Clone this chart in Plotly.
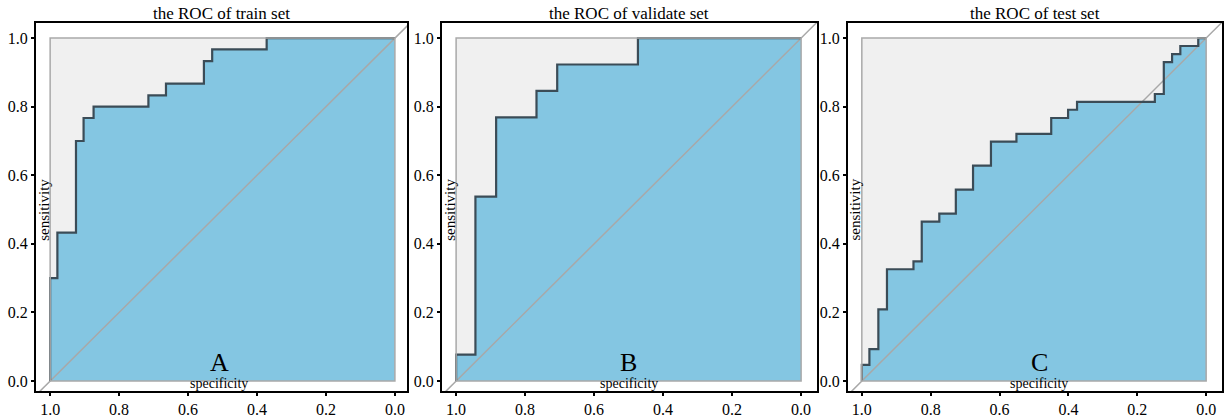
import plotly.graph_objects as go

titles = ["the ROC of train set", "the ROC of validate set", "the ROC of test set"]
letters = ["A", "B", "C"]

train_spec = [1.0, 0.979, 0.925, 0.903, 0.874, 0.715, 0.664, 0.554, 0.530, 0.372, 0.0]
train_sens = [0.0, 0.300, 0.433, 0.700, 0.767, 0.800, 0.833, 0.867, 0.933, 0.967, 1.0]

valid_spec = [1.0, 0.944, 0.884, 0.767, 0.707, 0.473, 0.0]
valid_sens = [0.0, 0.077, 0.538, 0.769, 0.846, 0.923, 1.0]

test_spec = [1.0, 0.978, 0.952, 0.927, 0.850, 0.826, 0.775, 0.727, 0.677, 0.625,
             0.551, 0.450, 0.401, 0.375, 0.149, 0.123, 0.099, 0.075, 0.023, 0.0]
test_sens = [0.0, 0.047, 0.093, 0.209, 0.326, 0.349, 0.465, 0.488, 0.558, 0.628,
             0.698, 0.721, 0.767, 0.791, 0.814, 0.837, 0.930, 0.953, 0.977, 1.0]

curves = [(train_spec, train_sens), (valid_spec, valid_sens), (test_spec, test_sens)]

tick_vals = [0.0, 0.2, 0.4, 0.6, 0.8, 1.0]
tick_text = ["0.0", "0.2", "0.4", "0.6", "0.8", "1.0"]

x_ranges = [[1.041, -0.035], [1.041, -0.046], [1.040, -0.046]]
y_range = [-0.029, 1.044]
domains = [[0.0, 0.3128], [0.3423, 0.6585], [0.6847, 1.0]]
label_x = [0.51, 0.50, 0.485]

FILL = "#84c6e2"
LINE = "#3b4c57"
SQUARE = "#f0f0f0"
SQUARE_BORDER = "#a9a9a9"
DIAG = "#a8a8a8"
FONT = "Liberation Serif"

fig = go.Figure()
for i, (spec, sens) in enumerate(curves):
    sfx = "" if i == 0 else str(i + 1)
    xa, ya = "x" + sfx, "y" + sfx
    fig.add_shape(type="rect", x0=1, x1=0, y0=0, y1=1, xref=xa, yref=ya,
                  fillcolor=SQUARE, line=dict(width=0), layer="below")
    fig.add_trace(go.Scatter(x=spec, y=sens, mode="lines", line_shape="vh",
                             fill="tozeroy", fillcolor=FILL,
                             line=dict(width=0, color=FILL),
                             xaxis=xa, yaxis=ya, showlegend=False, hoverinfo="skip"))
    fig.add_shape(type="rect", x0=1, x1=0, y0=0, y1=1, xref=xa, yref=ya,
                  fillcolor="rgba(0,0,0,0)", line=dict(width=1.5, color=SQUARE_BORDER),
                  layer="above")
    fig.add_trace(go.Scatter(x=[1.2, -0.2], y=[-0.2, 1.2], mode="lines",
                             line=dict(width=1.5, color=DIAG),
                             xaxis=xa, yaxis=ya, showlegend=False, hoverinfo="skip"))
    fig.add_trace(go.Scatter(x=spec, y=sens, mode="lines", line_shape="vh",
                             line=dict(width=2.2, color=LINE),
                             xaxis=xa, yaxis=ya, showlegend=False, hoverinfo="skip"))

    axis_common = dict(showgrid=False, zeroline=False, showline=True, mirror=True,
                       automargin=False,
                       linecolor="black", linewidth=2, ticks="outside", ticklen=3,
                       tickwidth=1.5, tickcolor="black",
                       tickfont=dict(family=FONT, size=16, color="black"),
                       tickvals=tick_vals, ticktext=tick_text)
    fig.update_layout(**{
        "xaxis" + sfx: dict(range=x_ranges[i], domain=domains[i], anchor=ya, **axis_common),
        "yaxis" + sfx: dict(range=y_range, domain=[0, 1], anchor=xa, **axis_common),
    })

    xc = (domains[i][0] + domains[i][1]) / 2
    fig.add_annotation(text=titles[i], xref="paper", yref="paper", x=xc, y=1.0,
                       xanchor="center", yanchor="bottom", yshift=-2, showarrow=False,
                       font=dict(family=FONT, size=17, color="black"))
    fig.add_annotation(text="sensitivity", xref=xa, yref=ya, x=1.02, y=0.5,
                       textangle=-90, showarrow=False,
                       font=dict(family=FONT, size=15, color="black"))
    fig.add_annotation(text="specificity", xref=xa, yref=ya, x=label_x[i], y=-0.006,
                       showarrow=False, font=dict(family=FONT, size=14, color="black"))
    fig.add_annotation(text=letters[i], xref=xa, yref=ya, x=label_x[i], y=0.055,
                       showarrow=False, font=dict(family=FONT, size=26, color="black"))

fig.update_layout(width=1225, height=420, margin=dict(l=36, r=3, t=23, b=29),
                  paper_bgcolor="white", plot_bgcolor="white")

fig.write_html("out.html", config={"displayModeBar": False},
               post_script="document.body.style.margin='0';document.body.style.overflow='hidden';")
